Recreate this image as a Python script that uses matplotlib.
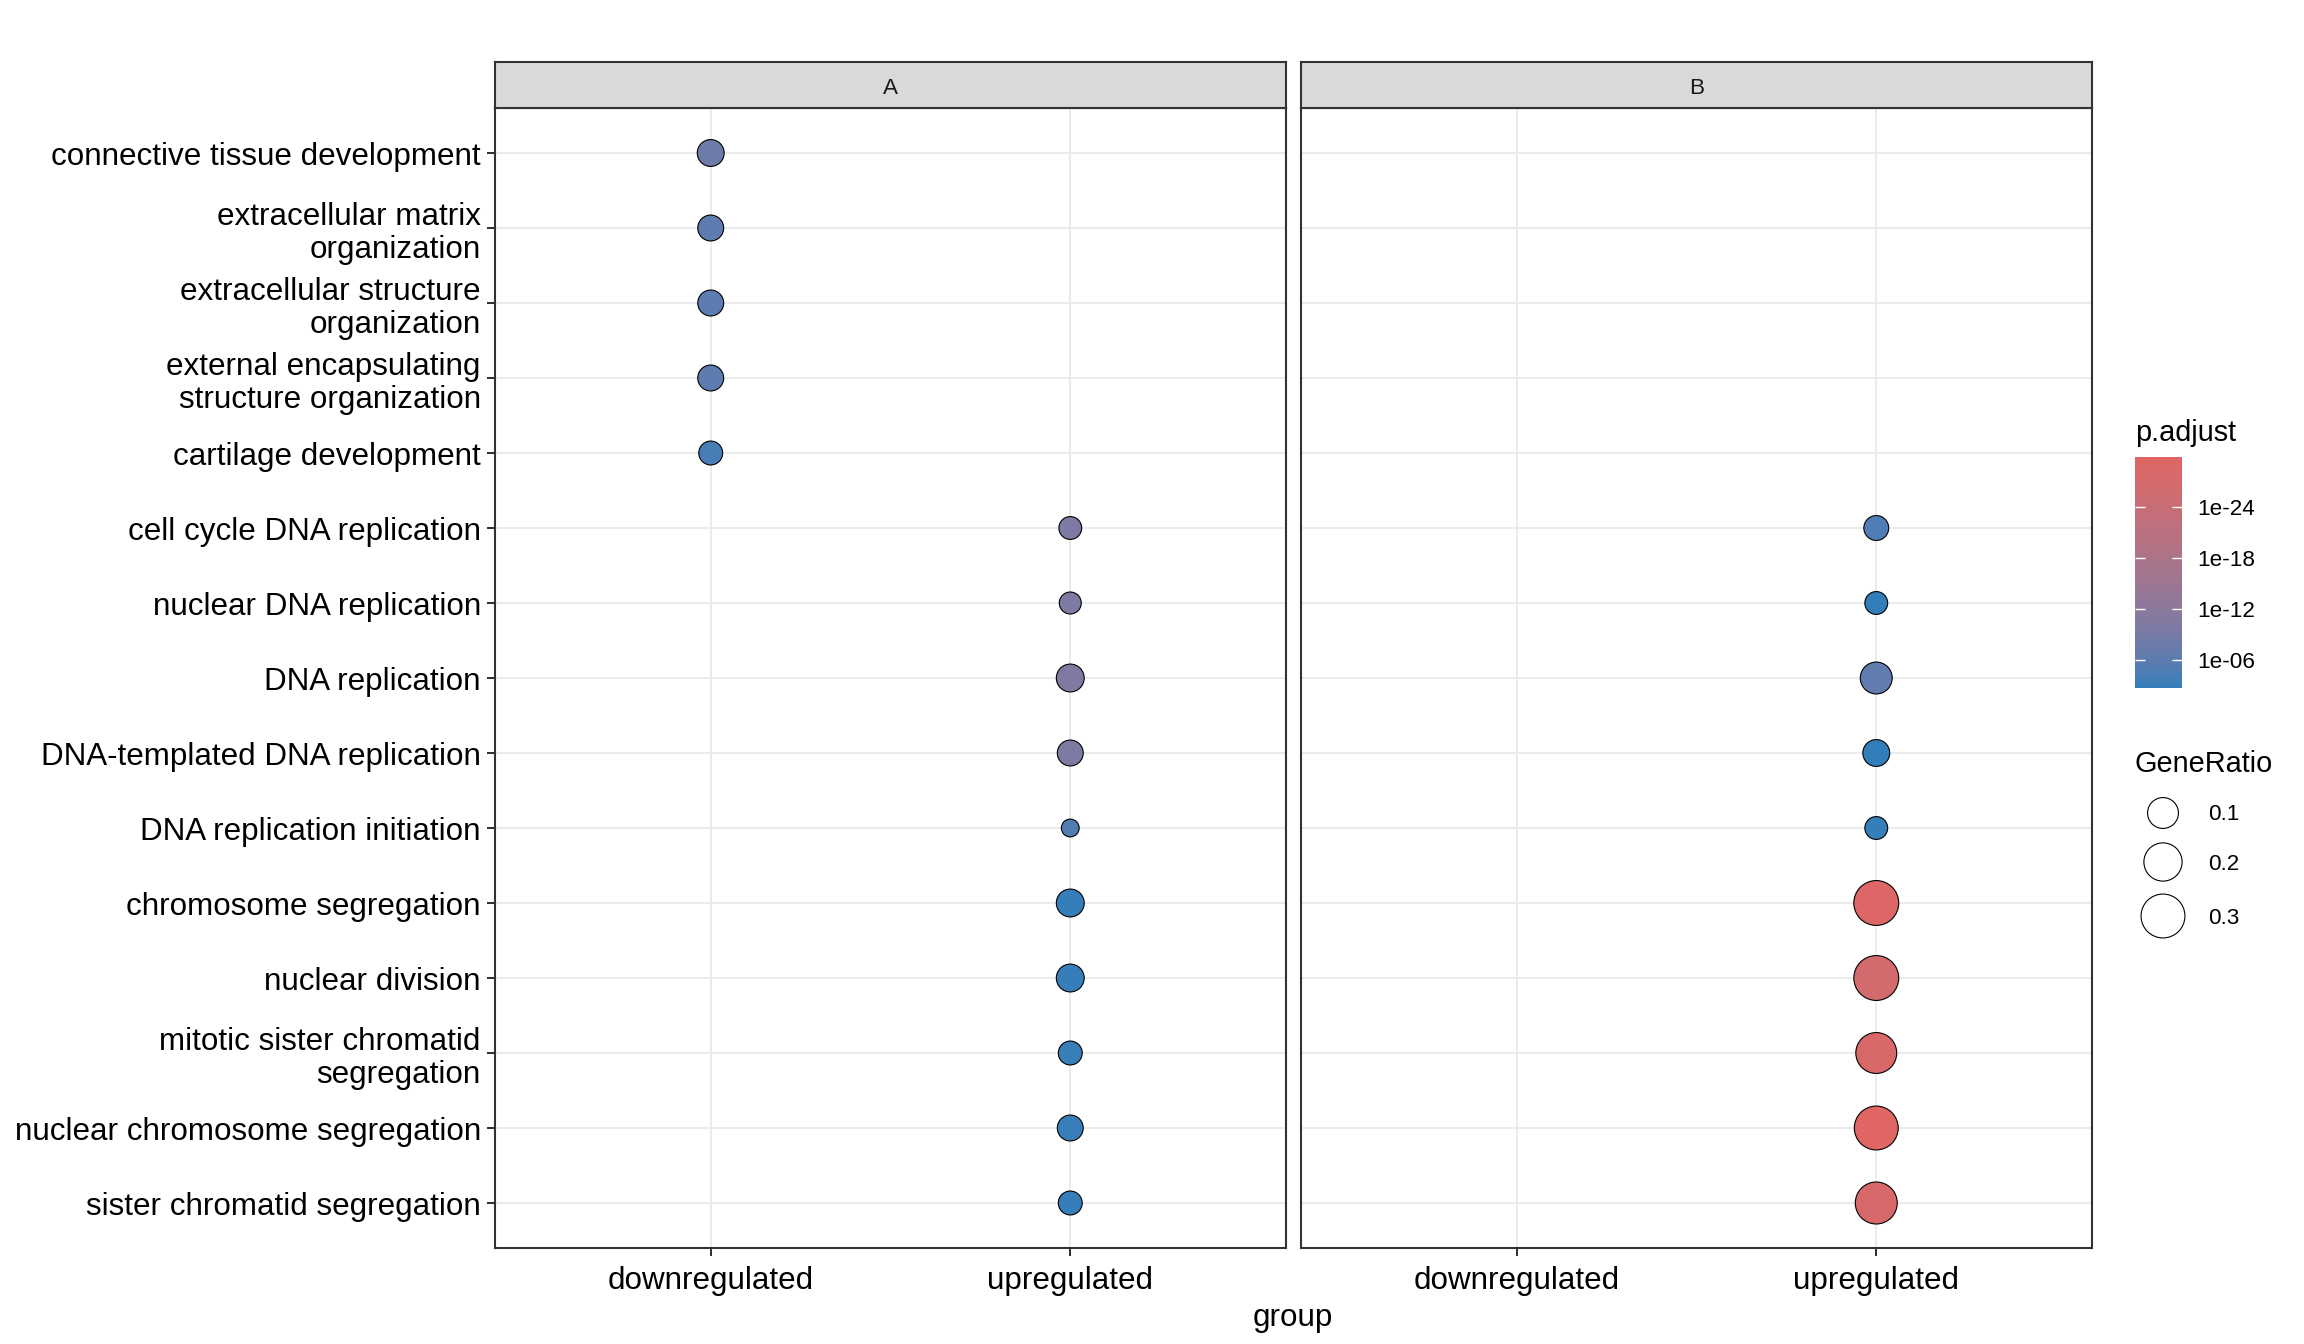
import textwrap
import numpy as np
import matplotlib
matplotlib.use("Agg")
import matplotlib.pyplot as plt
from matplotlib.colors import LogNorm, ListedColormap

plt.rcParams['font.family'] = ['Liberation Sans', 'DejaVu Sans']

# GO terms, top to bottom
terms = [
    "connective tissue development",
    "extracellular matrix organization",
    "extracellular structure organization",
    "external encapsulating structure organization",
    "cartilage development",
    "cell cycle DNA replication",
    "nuclear DNA replication",
    "DNA replication",
    "DNA-templated DNA replication",
    "DNA replication initiation",
    "chromosome segregation",
    "nuclear division",
    "mitotic sister chromatid segregation",
    "nuclear chromosome segregation",
    "sister chromatid segregation",
]
groups = ["downregulated", "upregulated"]
panels = ["A", "B"]

# panel A
a_terms = terms
a_groups = ["downregulated"] * 5 + ["upregulated"] * 10
a_ratio = [0.060, 0.052, 0.052, 0.052, 0.037,
           0.030, 0.025, 0.069, 0.052, 0.007,
           0.069, 0.069, 0.037, 0.052, 0.037]
a_padj = [7.9e-09, 6.3e-07, 1.0e-06, 7.9e-07, 7.9e-05,
          1.0e-10, 1.2e-10, 3.2e-11, 1.0e-10, 1.3e-05,
          1.0e-03, 1.1e-03, 9.0e-04, 9.5e-04, 1.2e-03]

# panel B
b_terms = terms[5:]
b_groups = ["upregulated"] * 10
b_ratio = [0.044, 0.030, 0.112, 0.060, 0.030,
           0.320, 0.320, 0.245, 0.300, 0.264]
b_padj = [1.6e-05, 1.6e-03, 3.2e-07, 2.0e-03, 1.3e-03,
          1.0e-29, 3.2e-27, 1.0e-28, 1.3e-30, 2.0e-28]

legend_ratios = [0.1, 0.2, 0.3]
legend_labels = ["0.1", "0.2", "0.3"]
cbar_ticks = [1e-24, 1e-18, 1e-12, 1e-06]
cbar_labels = ["1e-24", "1e-18", "1e-12", "1e-06"]

W, H, DPI = 2304, 1344, 200

# colour gradient interpolated in Lab space (like ggplot)
M = np.array([[0.4124, 0.3576, 0.1805],
              [0.2126, 0.7152, 0.0722],
              [0.0193, 0.1192, 0.9505]])
WHITE = np.array([0.95047, 1.0, 1.08883])

def to_lab(hexcol):
    rgb = np.array([int(hexcol[i:i + 2], 16) / 255 for i in (1, 3, 5)])
    lin = np.where(rgb > 0.04045, ((rgb + 0.055) / 1.055) ** 2.4, rgb / 12.92)
    xyz = M @ lin / WHITE
    f = np.where(xyz > 0.008856, np.cbrt(xyz), 7.787 * xyz + 16 / 116)
    return np.array([116 * f[1] - 16, 500 * (f[0] - f[1]), 200 * (f[1] - f[2])])

def from_lab(lab):
    fy = (lab[:, 0] + 16) / 116
    fx = fy + lab[:, 1] / 500
    fz = fy - lab[:, 2] / 200
    f = np.stack([fx, fy, fz], axis=1)
    xyz = np.where(f > 0.2069, f ** 3, (f - 16 / 116) / 7.787) * WHITE
    lin = np.clip(xyz @ np.linalg.inv(M).T, 0, 1)
    rgb = np.where(lin > 0.0031308, 1.055 * lin ** (1 / 2.4) - 0.055, 12.92 * lin)
    return np.clip(rgb, 0, 1)

t = np.linspace(0, 1, 256)[:, None]
lab = to_lab("#e06663") * (1 - t) + to_lab("#327eba") * t
cmap = ListedColormap(from_lab(lab))
all_padj = a_padj + b_padj
norm = LogNorm(vmin=min(all_padj), vmax=max(all_padj))

# point diameter grows with sqrt(GeneRatio)
def point_size(r):
    d_px = 14.2 + 56.2 * np.sqrt(np.asarray(r))
    return ((d_px - 1.1) * 72 / DPI) ** 2

fig = plt.figure(figsize=(W / DPI, H / DPI), dpi=DPI)

panel_left = [495, 1301]
panel_w = 791
top, bottom = 108, 1248
data = [(a_terms, a_groups, a_ratio, a_padj), (b_terms, b_groups, b_ratio, b_padj)]

for i, (name, (pt, pg, pr, pp)) in enumerate(zip(panels, data)):
    ax = fig.add_axes([panel_left[i] / W, 1 - bottom / H, panel_w / W, (bottom - top) / H])
    x = [groups.index(g) for g in pg]
    y = [terms.index(tm) for tm in pt]
    sc = ax.scatter(x, y, s=point_size(pr), c=pp, cmap=cmap, norm=norm,
                    edgecolors="black", linewidths=0.4, zorder=3)
    ax.set_xlim(-0.6, 1.6)
    ax.set_ylim(len(terms) - 0.4, -0.6)
    ax.set_xticks(range(len(groups)))
    ax.set_xticklabels(groups, fontsize=11.3, color="black")
    ax.set_yticks(range(len(terms)))
    if i == 0:
        labs = ax.set_yticklabels([textwrap.fill(tm, 30, break_on_hyphens=False) for tm in terms],
                                  fontsize=11.3, color="black")
        for lb in labs:
            lb.set_linespacing(1.17)
        ax.tick_params(axis="y", length=2.9, width=0.72, color="#333333", pad=2.2)
    else:
        ax.set_yticklabels([])
        ax.tick_params(axis="y", length=0)
    ax.tick_params(axis="x", length=2.9, width=0.72, color="#333333", pad=3.6)
    ax.grid(True, color="#EBEBEB", linewidth=0.72)
    ax.set_axisbelow(True)
    for s in ax.spines.values():
        s.set_color("#333333")
        s.set_linewidth(0.75)

    # facet strip
    st = fig.add_axes([panel_left[i] / W, 1 - top / H, panel_w / W, 46 / H])
    st.set_facecolor("#D9D9D9")
    st.set_xticks([])
    st.set_yticks([])
    for s in st.spines.values():
        s.set_color("#333333")
        s.set_linewidth(0.75)
    st.text(0.5, 0.42, name, ha="center", va="center", fontsize=8.1, color="#1A1A1A")

fig.text(1293 / W, 1 - 1318 / H, "group", ha="center", va="center", fontsize=11.3)

# colour bar
cax = fig.add_axes([2135 / W, 1 - 688 / H, 47 / W, 231 / H])
cb = fig.colorbar(sc, cax=cax)
cb.outline.set_visible(False)
cb.minorticks_off()
cax.invert_yaxis()
cb.set_ticks(cbar_ticks, labels=cbar_labels)
cax.tick_params(which="both", direction="in", left=True, right=True, color="white",
                length=3.6, width=0.5, labelsize=8.1, pad=5.4)
fig.text(2135 / W, 1 - 433 / H, "p.adjust", ha="left", va="center", fontsize=10.4)

# size legend
fig.text(2135 / W, 1 - 764 / H, "GeneRatio", ha="left", va="center", fontsize=10.4)
leg = fig.add_axes([0, 0, 1, 1])
leg.set_xlim(0, W)
leg.set_ylim(H, 0)
leg.axis("off")
key_y = [813, 862, 916]
leg.scatter([2163] * 3, key_y, s=point_size(legend_ratios), facecolors="white",
            edgecolors="black", linewidths=0.4)
for ky, lb in zip(key_y, legend_labels):
    leg.text(2208, ky + 2, lb, ha="left", va="center", fontsize=8.1)

fig.savefig("out.png", dpi=DPI, facecolor="white")
